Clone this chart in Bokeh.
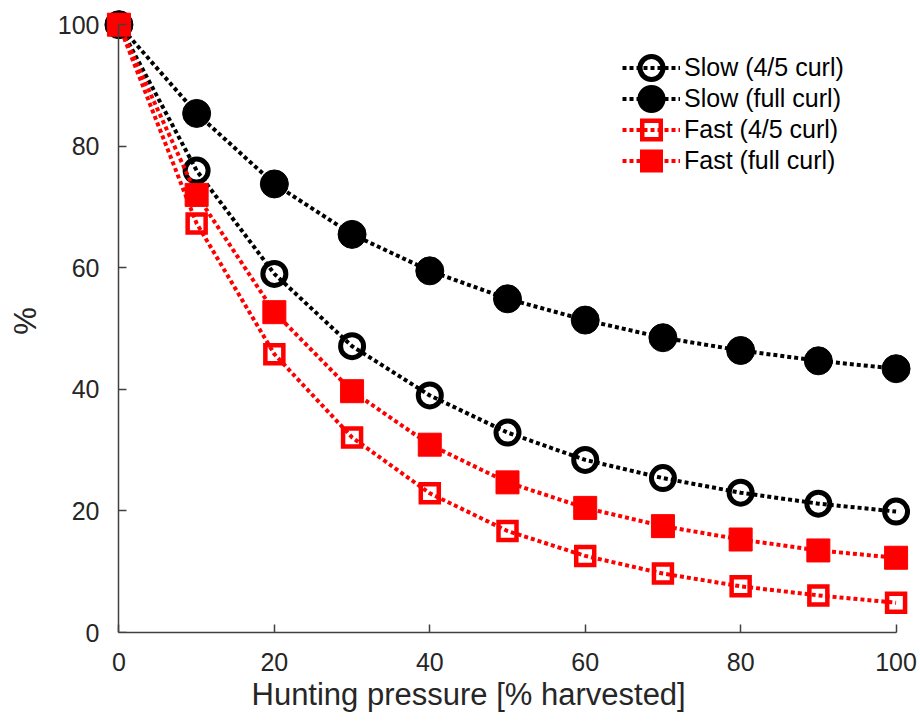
from bokeh.plotting import figure
from bokeh.models import Range1d, FixedTicker, Legend, LegendItem, LinearAxis, Title
from bokeh.embed import file_html
from bokeh.resources import INLINE

# ---- data ----
harvest = [0, 10, 20, 30, 40, 50, 60, 70, 80, 90, 100]
slow_45 = [100, 76.0, 59.0, 47.1, 39.0, 32.9, 28.4, 25.4, 23.0, 21.2, 19.9]
slow_full = [100, 85.4, 73.8, 65.5, 59.5, 54.9, 51.4, 48.5, 46.4, 44.7, 43.4]
fast_45 = [100, 67.3, 45.8, 32.1, 22.9, 16.7, 12.6, 9.7, 7.6, 6.1, 4.9]
fast_full = [100, 72.0, 52.7, 39.7, 30.9, 24.7, 20.5, 17.5, 15.3, 13.5, 12.3]
series_labels = ["Slow (4/5 curl)", "Slow (full curl)", "Fast (4/5 curl)", "Fast (full curl)"]
x_ticks = [0, 20, 40, 60, 80, 100]
y_ticks = [0, 20, 40, 60, 80, 100]
x_title = "Hunting pressure [% harvested]"
y_title = "%"

FONT = "Liberation Sans"
TXT = "#262626"
AX = "#404040"

p = figure(width=920, height=722, output_backend="svg", toolbar_location=None,
           x_range=Range1d(-2.5, 102.5), y_range=Range1d(0, 102.5),
           min_border_left=99, min_border_right=5, min_border_top=9, min_border_bottom=90)
p.outline_line_color = None
p.grid.visible = False
p.background_fill_color = "white"
p.border_fill_color = "white"


def style(ax):
    ax.ticker = FixedTicker(ticks=x_ticks)
    ax.axis_line_color = AX
    ax.axis_line_width = 1.5
    ax.major_tick_line_color = AX
    ax.major_tick_line_width = 1.5
    ax.major_tick_in = 8
    ax.major_tick_out = 0
    ax.minor_tick_line_color = None
    ax.major_label_text_font = FONT
    ax.major_label_text_font_size = "25px"
    ax.major_label_text_color = TXT
    ax.axis_label_text_font = FONT
    ax.axis_label_text_font_style = "normal"
    ax.axis_label_text_color = TXT
    ax.axis_label_text_font_size = "31px"


# x axis (at y = 0, the bottom of the frame)
xa = p.xaxis[0]
style(xa)
xa.bounds = (0, 100)
xa.major_label_standoff = 20

# y axis: labels in the side panel, line + ticks at x = 0
ya = p.yaxis[0]
style(ya)
ya.ticker = FixedTicker(ticks=y_ticks)
ya.axis_line_color = None
ya.major_tick_line_color = None
ya.major_label_standoff = 0
ya.axis_label = y_title
ya.axis_label_standoff = 12

ya2 = LinearAxis(fixed_location=0, bounds=(0, 100))
style(ya2)
ya2.ticker = FixedTicker(ticks=y_ticks)
ya2.major_label_text_font_size = "0px"
ya2.major_label_text_color = None
ya2.major_label_standoff = 0
p.add_layout(ya2, "left")

p.add_layout(Title(text=x_title, align="left", offset=152, standoff=2,
                   text_font=FONT, text_font_size="31px", text_font_style="normal",
                   text_color=TXT), "below")

DASH = "4 3"
LW = 4

specs = [
    (slow_45, "circle", "black", False, 23, 5, 28),
    (slow_full, "circle", "black", True, 28, 1, 28),
    (fast_45, "square", "red", False, 18, 4.5, 23),
    (fast_full, "square", "red", True, 23, 1, 23),
]
LEG_SIZE = 0.4 * 31  # marker size Bokeh uses in a 58x31 legend glyph box

items = []
for (ys, marker, col, filled, size, mlw, leg_outer), lab in zip(specs, series_labels):
    ln = p.line(harvest, ys, line_color=col, line_width=LW, line_dash=DASH)
    if filled:
        p.scatter(harvest, ys, marker=marker, size=size, fill_color=col,
                  line_color=col, line_width=mlw, line_join="miter")
    else:
        p.scatter(harvest, ys, marker=marker, size=size, fill_color=None,
                  line_color=col, line_width=mlw, line_join="miter")
    # legend-only proxies (hidden in the plot), sized for the legend sample
    outer = p.scatter(harvest[:1], ys[:1], marker=marker, fill_color=col, line_color=col,
                      line_width=leg_outer - LEG_SIZE, line_join="miter", visible=False)
    rends = [outer]
    if not filled:
        inner = p.scatter(harvest[:1], ys[:1], marker=marker, fill_color="white",
                          line_color="white", line_width=leg_outer - 2 * mlw - LEG_SIZE,
                          line_join="miter", visible=False)
        rends.append(inner)
    rends.append(ln)
    items.append(LegendItem(label=lab, renderers=rends))

legend = Legend(items=items, location=(523, 456), border_line_color=None,
                background_fill_alpha=0, padding=0, margin=0,
                glyph_width=58, glyph_height=31, spacing=0, label_standoff=4,
                label_text_font=FONT, label_text_font_size="25px",
                label_text_color="black", label_height=31, click_policy="none")
p.add_layout(legend)

open("out.html", "w").write(file_html(p, INLINE))
